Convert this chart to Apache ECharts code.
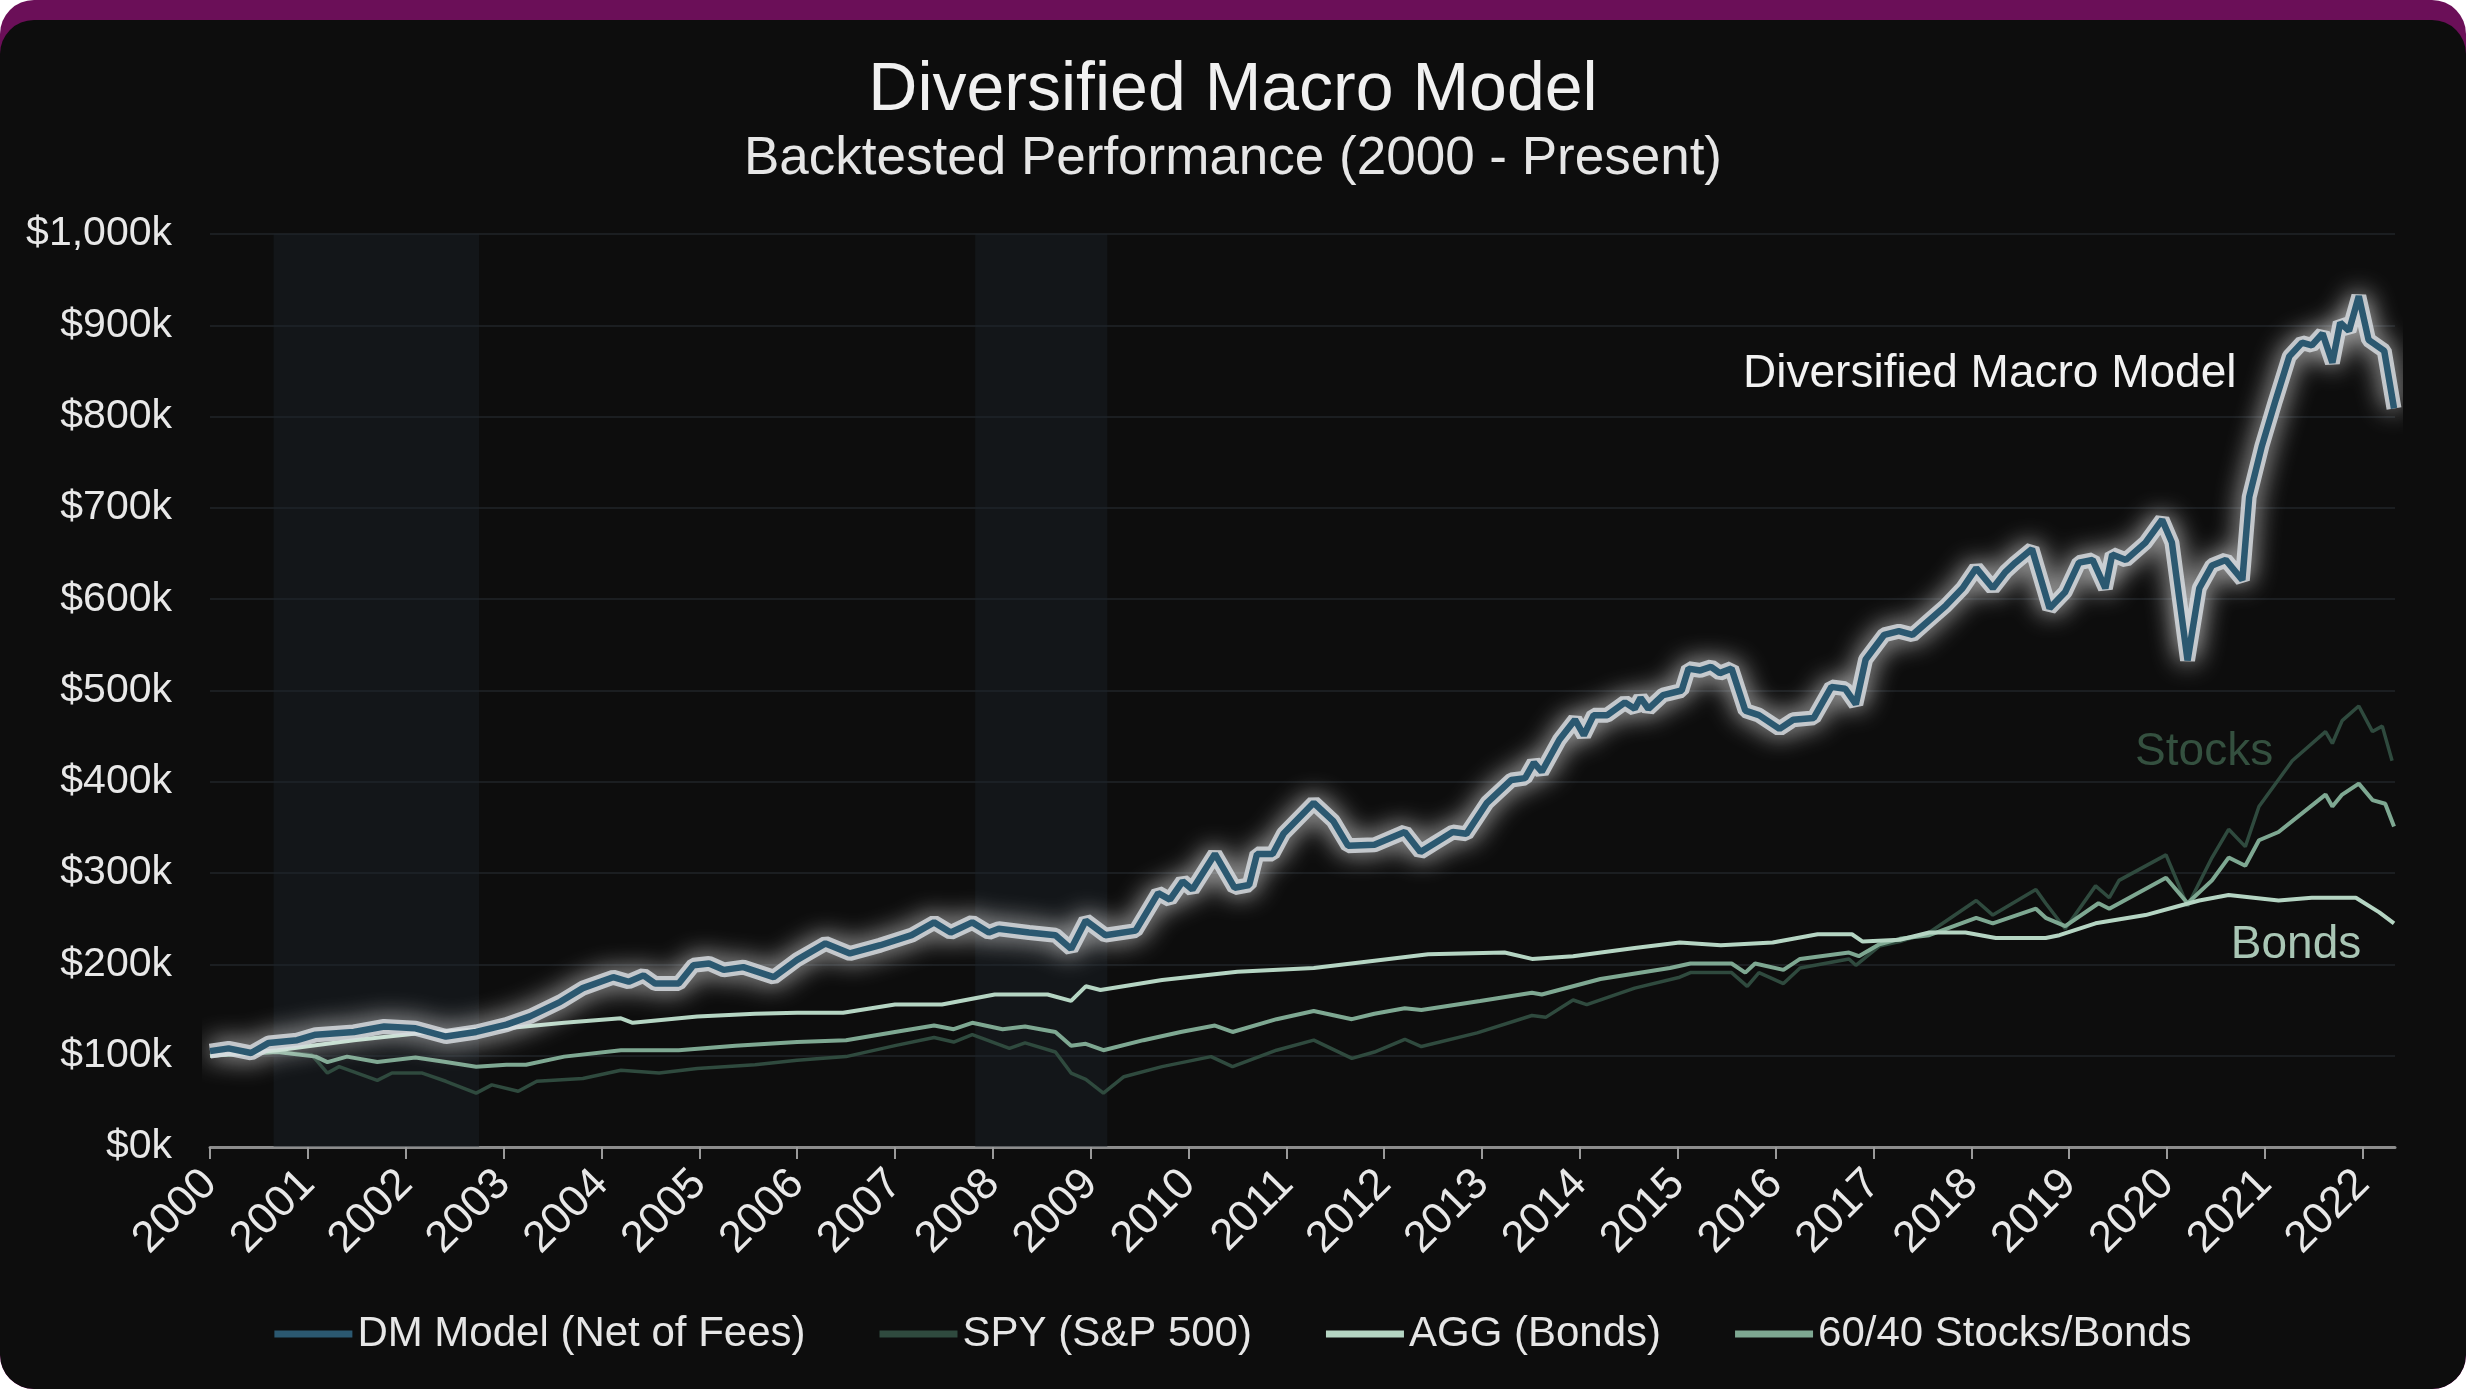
<!DOCTYPE html>
<html lang="en">
<head>
<meta charset="UTF-8">
<title>Diversified Macro Model</title>
<script src="https://cdn.jsdelivr.net/npm/echarts@6/dist/echarts.min.js"></script>
<style>
    html, body { margin: 0; padding: 0; background: #ffffff; }
    #card { position: absolute; left: 0; top: 0; width: 2466px; height: 1389px; background: #6b0f58; border-radius: 34px; overflow: hidden; }
    #inner { position: absolute; left: 0; top: 20px; width: 2466px; height: 1369px; background: #0d0d0d; border-radius: 34px; }
    #chart { position: absolute; left: 0; top: 0; width: 2466px; height: 1389px; }
</style>
</head>
<body>
<div id="card"><div id="inner"></div><div id="chart"></div></div>
<script>
    // values in $k, x = decimal year
    var dmModel = [[2000.0,105],[2000.19,108],[2000.42,103],[2000.6,114],[2000.89,117],[2001.08,123],[2001.47,126],[2001.78,132],[2002.1,130],[2002.41,121],[2002.72,126],[2003.03,134],[2003.27,143],[2003.58,159],[2003.81,174],[2004.12,186],[2004.28,181],[2004.43,188],[2004.55,179],[2004.79,179],[2004.94,199],[2005.1,201],[2005.25,194],[2005.45,197],[2005.76,186],[2006.0,205],[2006.29,223],[2006.54,212],[2006.85,221],[2007.17,232],[2007.4,246],[2007.57,235],[2007.79,246],[2007.96,235],[2008.06,239],[2008.37,235],[2008.64,232],[2008.8,217],[2008.95,248],[2009.15,232],[2009.46,237],[2009.69,278],[2009.81,271],[2009.94,291],[2010.04,282],[2010.27,321],[2010.47,284],[2010.62,287],[2010.7,321],[2010.86,321],[2010.97,343],[2011.28,377],[2011.48,357],[2011.63,330],[2011.9,331],[2012.21,345],[2012.37,323],[2012.52,333],[2012.7,345],[2012.84,343],[2013.05,377],[2013.3,402],[2013.44,404],[2013.53,421],[2013.61,411],[2013.79,446],[2013.95,468],[2014.04,451],[2014.14,473],[2014.28,473],[2014.46,487],[2014.56,480],[2014.62,492],[2014.7,480],[2014.85,495],[2015.04,500],[2015.11,524],[2015.23,522],[2015.34,526],[2015.43,519],[2015.55,524],[2015.69,478],[2015.83,473],[2016.04,458],[2016.18,468],[2016.39,470],[2016.57,504],[2016.71,502],[2016.82,485],[2016.92,534],[2017.11,561],[2017.26,565],[2017.4,561],[2017.57,577],[2017.74,593],[2017.91,612],[2018.05,634],[2018.22,612],[2018.35,630],[2018.45,640],[2018.62,655],[2018.8,590],[2018.96,608],[2019.1,640],[2019.24,643],[2019.37,612],[2019.44,649],[2019.58,643],[2019.78,662],[2019.95,687],[2020.05,662],[2020.21,533],[2020.33,612],[2020.46,637],[2020.6,643],[2020.77,621],[2020.84,712],[2020.97,768],[2021.11,818],[2021.25,866],[2021.38,881],[2021.48,878],[2021.59,891],[2021.69,859],[2021.77,903],[2021.86,894],[2021.96,932],[2022.06,884],[2022.22,872],[2022.32,809]];

    var spy = [[2000,100],[2000.69,104],[2001.04,101],[2001.2,81],[2001.32,88],[2001.71,73],[2001.86,81],[2002.17,81],[2002.41,72],[2002.72,59],[2002.88,68],[2003.15,61],[2003.34,72],[2003.81,75],[2004.2,84],[2004.59,81],[2004.98,86],[2005.57,90],[2006.0,95],[2006.5,99],[2007.0,111],[2007.4,120],[2007.6,115],[2007.79,123],[2008.17,108],[2008.33,114],[2008.64,104],[2008.8,81],[2008.95,74],[2009.13,59],[2009.34,77],[2009.73,88],[2010.23,99],[2010.45,88],[2010.9,106],[2011.28,117],[2011.67,97],[2011.9,104],[2012.21,118],[2012.38,110],[2012.95,125],[2013.51,144],[2013.65,142],[2013.93,161],[2014.07,156],[2014.56,174],[2015.02,186],[2015.13,191],[2015.55,191],[2015.71,176],[2015.83,191],[2016.08,179],[2016.25,196],[2016.75,206],[2016.82,199],[2017.06,220],[2017.27,225],[2017.57,235],[2018.05,270],[2018.22,254],[2018.66,282],[2018.76,267],[2018.96,239],[2019.27,286],[2019.41,273],[2019.51,292],[2019.99,320],[2020.21,264],[2020.46,317],[2020.63,348],[2020.8,329],[2020.94,373],[2021.28,423],[2021.62,455],[2021.69,442],[2021.79,467],[2021.96,483],[2022.1,455],[2022.2,461],[2022.3,423]];

    var agg = [[2000,100],[2000.69,106],[2001.47,117],[2002.25,126],[2003.03,130],[2003.62,136],[2004.2,141],[2004.32,136],[2004.98,143],[2005.57,146],[2006.0,147],[2006.47,147],[2007.0,156],[2007.48,156],[2008.02,167],[2008.56,167],[2008.8,160],[2008.95,176],[2009.1,172],[2009.73,183],[2010.5,192],[2011.28,196],[2011.9,204],[2012.45,211],[2013.23,213],[2013.51,206],[2013.93,209],[2014.56,218],[2015.02,224],[2015.44,221],[2015.97,224],[2016.43,233],[2016.78,233],[2016.89,225],[2017.27,227],[2017.57,235],[2017.94,235],[2018.25,229],[2018.76,229],[2018.9,232],[2019.27,245],[2019.78,254],[2020.12,264],[2020.33,270],[2020.63,276],[2021.14,270],[2021.48,273],[2021.93,273],[2022.17,257],[2022.32,245]];

    var mix6040 = [[2000,100],[2000.69,104],[2001.08,99],[2001.2,93],[2001.4,99],[2001.71,93],[2002.1,98],[2002.41,93],[2002.72,88],[2003.03,90],[2003.23,90],[2003.62,99],[2004.2,106],[2004.79,106],[2005.37,111],[2006.0,115],[2006.5,117],[2007.0,126],[2007.4,133],[2007.6,129],[2007.79,136],[2008.1,129],[2008.33,132],[2008.64,126],[2008.8,111],[2008.95,113],[2009.13,106],[2009.54,117],[2009.92,126],[2010.27,133],[2010.45,126],[2010.9,140],[2011.28,149],[2011.67,140],[2011.9,146],[2012.21,152],[2012.38,150],[2012.98,160],[2013.51,169],[2013.61,167],[2014.21,184],[2014.92,196],[2015.13,201],[2015.55,201],[2015.69,191],[2015.79,201],[2016.08,194],[2016.25,206],[2016.75,213],[2016.85,209],[2017.06,222],[2017.27,228],[2017.57,232],[2018.05,251],[2018.22,245],[2018.66,261],[2018.76,251],[2018.96,242],[2019.3,267],[2019.41,261],[2019.99,295],[2020.21,267],[2020.46,292],[2020.63,317],[2020.8,308],[2020.94,336],[2021.14,345],[2021.62,386],[2021.69,373],[2021.79,386],[2021.96,398],[2022.1,380],[2022.23,376],[2022.32,351]];

    var recessions = [[2000.65, 2002.75], [2007.82, 2009.17]];
    var years = [];
    for (var y = 2000; y <= 2022; y++) years.push(y);
    var seriesNames = ['DM Model (Net of Fees)', 'SPY (S&P 500)', 'AGG (Bonds)', '60/40 Stocks/Bonds'];

    var font = 'Liberation Sans, Arial, sans-serif';

    function tag(coord, text, color) {
        return {
            silent: true,
            symbol: 'circle',
            symbolSize: 1,
            itemStyle: { color: 'rgba(0,0,0,0)' },
            label: { show: true, position: 'left', distance: 0, formatter: text, color: color, fontSize: 46, fontFamily: font },
            data: [{ coord: coord }]
        };
    }

    var ct = echarts.init(document.getElementById('chart'));
    var option = {
        animation: false,
        backgroundColor: 'transparent',
        textStyle: { fontFamily: font },
        title: [
            { text: 'Diversified Macro Model', left: 'center', top: 52,
              textStyle: { color: '#f0f0f0', fontSize: 68, fontWeight: 'normal', fontFamily: font } },
            { text: 'Backtested Performance (2000 - Present)', left: 'center', top: 128,
              textStyle: { color: '#e6e6e6', fontSize: 53, fontWeight: 'normal', fontFamily: font } }
        ],
        legend: {
            data: seriesNames,
            left: 'center',
            top: 1308,
            icon: 'rect',
            itemWidth: 78,
            itemHeight: 7,
            itemGap: 74,
            textStyle: { color: '#e6e6e6', fontSize: 42, fontFamily: font }
        },
        grid: { left: 210, right: 71, top: 234, bottom: 242 },
        xAxis: {
            type: 'value',
            min: 2000,
            max: 2022.33,
            interval: 1,
            splitLine: { show: false },
            axisLine: { lineStyle: { color: '#8c8c8c', width: 3 } },
            axisTick: { show: true, length: 12, customValues: years, lineStyle: { color: '#9a9a9a', width: 2 } },
            axisLabel: { rotate: 45, customValues: years, margin: 30, color: '#e8e8e8', fontSize: 44,
                         padding: [0, 0, 0, 0],
                         formatter: function (v) { return String(v); } }
        },
        yAxis: {
            type: 'value',
            min: 0,
            max: 1000,
            interval: 100,
            axisLine: { show: false },
            axisTick: { show: false },
            splitLine: { lineStyle: { color: '#1b1e21', width: 2 } },
            axisLabel: { margin: 38, color: '#e8e8e8', fontSize: 41,
                         formatter: function (v) { return '$' + (v >= 1000 ? '1,000' : v) + 'k'; } }
        },
        series: [
            {
                name: 'SPY (S&P 500)', type: 'line', data: spy, showSymbol: false, z: 2,
                lineStyle: { width: 3.5, color: '#2f4a3e' }, itemStyle: { color: '#2f4a3e' },
                markArea: {
                    silent: true,
                    itemStyle: { color: 'rgba(28,35,42,0.42)' },
                    data: recessions.map(function (r) { return [{ xAxis: r[0] }, { xAxis: r[1] }]; })
                },
                markPoint: tag([2021.09, 432], 'Stocks', '#34503f')
            },
            {
                name: '60/40 Stocks/Bonds', type: 'line', data: mix6040, showSymbol: false, z: 3,
                lineStyle: { width: 4, color: '#7ea892' }, itemStyle: { color: '#7ea892' }
            },
            {
                name: 'AGG (Bonds)', type: 'line', data: agg, showSymbol: false, z: 3,
                lineStyle: { width: 4, color: '#b5d5c3' }, itemStyle: { color: '#b5d5c3' },
                markPoint: tag([2021.99, 221], 'Bonds', '#a9c6b5')
            },
            {
                name: 'glow', type: 'line', data: dmModel, showSymbol: false, silent: true, z: 4,
                lineStyle: { width: 15, color: 'rgba(214,219,223,0.85)', shadowBlur: 26, shadowColor: 'rgba(255,255,255,0.95)' }
            },
            {
                name: 'DM Model (Net of Fees)', type: 'line', data: dmModel, showSymbol: false, z: 5,
                lineStyle: { width: 6.5, color: '#2b5870' }, itemStyle: { color: '#2b5870' },
                markPoint: tag([2020.715, 846], 'Diversified Macro Model', '#f2f2f2')
            }
        ]
    };
    ct.setOption(option);
</script>
</body>
</html>
